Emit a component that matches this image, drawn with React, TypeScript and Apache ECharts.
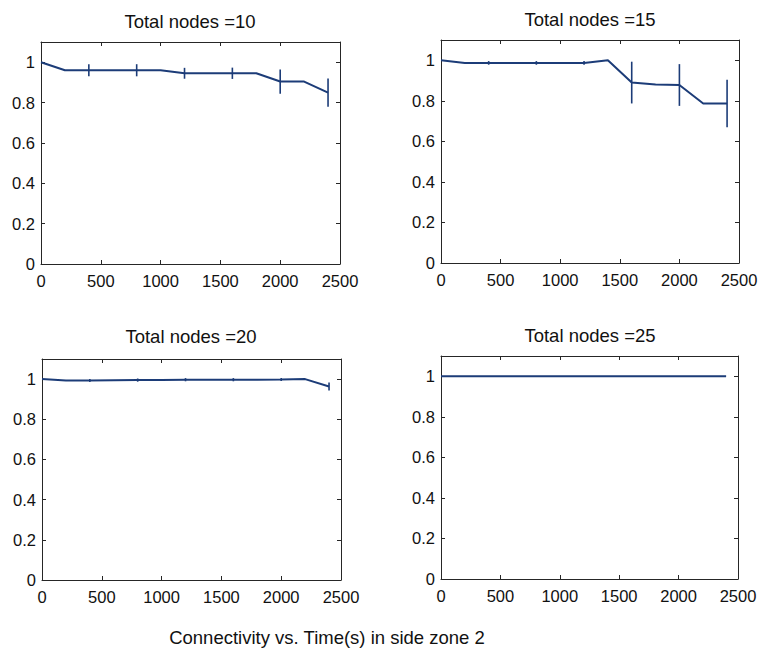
import React, { useEffect, useRef } from "react";
import * as echarts from "echarts";

// ---- data ----
const times = [0, 200, 400, 600, 800, 1000, 1200, 1400, 1600, 1800, 2000, 2200, 2400];
const conn10 = [1.0, 0.96, 0.96, 0.96, 0.96, 0.96, 0.945, 0.945, 0.945, 0.945, 0.904, 0.904, 0.849];
const conn15 = [1.0, 0.987, 0.987, 0.987, 0.987, 0.987, 0.987, 1.0, 0.89, 0.88, 0.878, 0.787, 0.787];
const conn20 = [1.0, 0.993, 0.993, 0.994, 0.995, 0.996, 0.997, 0.997, 0.997, 0.997, 0.998, 1.0, 0.963];
const conn25 = [1.0, 1.0, 1.0, 1.0, 1.0, 1.0, 1.0, 1.0, 1.0, 1.0, 1.0, 1.0, 1.0];

const errTimes = [400, 800, 1200, 1600, 2000, 2400];
const err10 = [0.03, 0.03, 0.027, 0.028, 0.06, 0.07];
const err15 = [0.009, 0.009, 0.009, 0.103, 0.103, 0.117];
const err20 = [0.008, 0.008, 0.008, 0.008, 0.008, 0.02];
const err25 = [0, 0, 0, 0, 0, 0];

const titles = ["Total nodes =10", "Total nodes =15", "Total nodes =20", "Total nodes =25"];
const caption = "Connectivity vs. Time(s) in side zone 2";
const xTicks = { min: 0, max: 2500, interval: 500 };
const yTicks = { min: 0, max: 1.1, interval: 0.2 };

const FONT = "'Liberation Sans', Arial, Helvetica, sans-serif";
const LINE = "#1c3c78";
const FRAME = "#262626";

const panels = [
  { vals: conn10, errs: err10, grid: { left: 41, top: 42, width: 299, height: 222 }, title: [190, 21] },
  { vals: conn15, errs: err15, grid: { left: 441, top: 40, width: 298, height: 223 }, title: [590, 19] },
  { vals: conn20, errs: err20, grid: { left: 42, top: 359, width: 299, height: 221 }, title: [191, 336] },
  { vals: conn25, errs: err25, grid: { left: 441, top: 356, width: 297, height: 223 }, title: [590, 335] },
];

function buildOption() {
  const grid: any[] = [];
  const xAxis: any[] = [];
  const yAxis: any[] = [];
  const series: any[] = [];
  const graphic: any[] = [];

  const axisLine = { show: true, onZero: false, lineStyle: { color: FRAME, width: 1 } };
  const axisTick = { show: true, inside: true, length: 4, lineStyle: { color: FRAME, width: 1 } };

  panels.forEach((p, i) => {
    grid.push({ ...p.grid, containLabel: false });
    xAxis.push({
      type: "value", gridIndex: i, position: "bottom", ...xTicks,
      axisLine, axisTick, splitLine: { show: false },
      axisLabel: {
        show: true, color: "#111", fontSize: 16.5, fontFamily: FONT, margin: 8,
        formatter: (v: number) => String(Math.round(v)),
      },
    });
    xAxis.push({
      type: "value", gridIndex: i, position: "top", ...xTicks,
      axisLine, axisTick, splitLine: { show: false }, axisLabel: { show: false },
    });
    yAxis.push({
      type: "value", gridIndex: i, position: "left", ...yTicks,
      axisLine, axisTick, splitLine: { show: false },
      axisLabel: {
        show: true, color: "#111", fontSize: 16.5, fontFamily: FONT, margin: 6,
        formatter: (v: number) => (v > 1.05 ? "" : String(Number(v.toFixed(1)))),
      },
    });
    yAxis.push({
      type: "value", gridIndex: i, position: "right", ...yTicks,
      axisLine, axisTick, splitLine: { show: false }, axisLabel: { show: false },
    });

    const xi = i * 2;
    const yi = i * 2;
    series.push({
      type: "line", xAxisIndex: xi, yAxisIndex: yi,
      data: times.map((t, k) => [t, p.vals[k]]),
      showSymbol: false, symbol: "none",
      lineStyle: { color: LINE, width: 2 },
      itemStyle: { color: LINE },
      z: 3,
    });
    const errData = errTimes
      .map((t, k) => [t, p.vals[times.indexOf(t)], p.errs[k]])
      .filter((d) => d[2] > 0);
    if (errData.length) {
      series.push({
        type: "custom", xAxisIndex: xi, yAxisIndex: yi,
        data: errData,
        z: 4,
        renderItem: (_params: any, api: any) => {
          const x = api.value(0);
          const y = api.value(1);
          const e = api.value(2);
          const a = api.coord([x, y + e]);
          const b = api.coord([x, y - e]);
          return {
            type: "line",
            shape: { x1: a[0], y1: a[1], x2: b[0], y2: b[1] },
            style: { stroke: LINE, lineWidth: 1.6 },
          };
        },
      });
    }
    graphic.push({
      type: "text", x: p.title[0], y: p.title[1],
      style: { text: titles[i], fill: "#111", fontSize: 18.5, fontFamily: FONT, align: "center", verticalAlign: "middle" },
    });
  });

  graphic.push({
    type: "text", x: 327, y: 637,
    style: { text: caption, fill: "#111", fontSize: 18.5, fontFamily: FONT, align: "center", verticalAlign: "middle" },
  });

  return {
    animation: false,
    backgroundColor: "#ffffff",
    grid, xAxis, yAxis, series, graphic,
  };
}

export default function App() {
  const ref = useRef<HTMLDivElement>(null);
  useEffect(() => {
    document.body.style.margin = "0";
    if (!ref.current) return;
    const chart = echarts.init(ref.current, undefined, { renderer: "svg" });
    chart.setOption(buildOption() as any);
    return () => chart.dispose();
  }, []);
  return <div ref={ref} style={{ width: 761, height: 654 }} />;
}
